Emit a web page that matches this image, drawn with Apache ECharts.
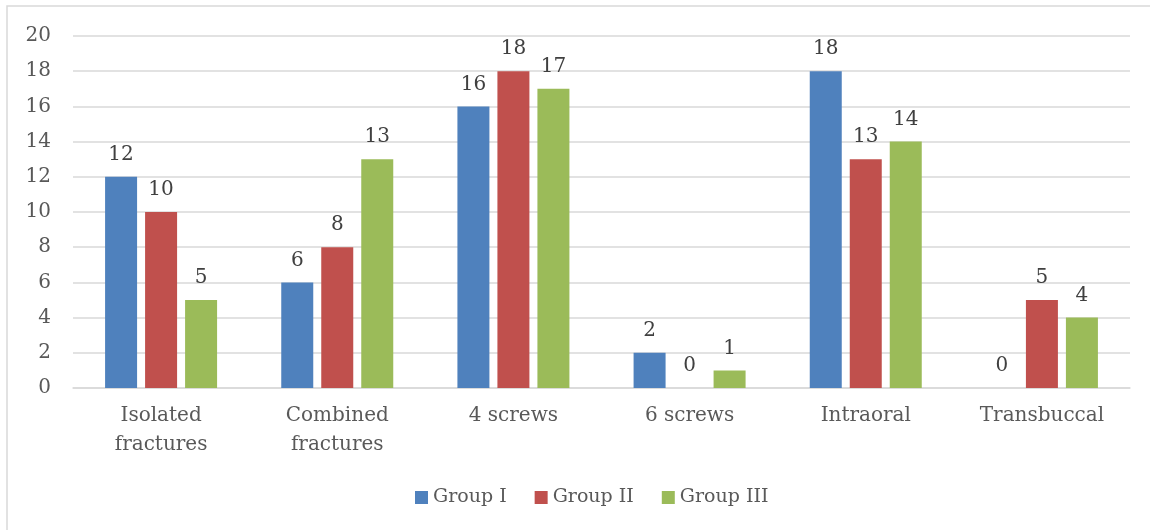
<!DOCTYPE html>
<html>
<head>
<meta charset="utf-8">
<script src="https://cdn.jsdelivr.net/npm/echarts@6/dist/echarts.min.js"></script>
<style>
  html, body { margin: 0; padding: 0; background: #fff; }
  #chart { width: 1150px; height: 530px; }
</style>
</head>
<body>
<div id="chart"></div>
<script>
// categories and values
var categories = ['Isolated\nfractures', 'Combined\nfractures', '4 screws', '6 screws', 'Intraoral', 'Transbuccal'];
var groupI = [12, 6, 16, 2, 18, 0];
var groupII = [10, 8, 18, 0, 13, 5];
var groupIII = [5, 13, 17, 1, 14, 4];
var seriesNames = ['Group I', 'Group II', 'Group III'];
var colors = ['#4f81bd', '#c0504d', '#9bbb59'];

var font = 'DejaVu Serif';

var chart = echarts.init(document.getElementById('chart'));

function makeSeries(name, data, color) {
    return {
        name: name,
        type: 'bar',
        data: data,
        barWidth: 32,
        barGap: '25%',
        itemStyle: { color: color },
        label: {
            show: true,
            position: 'top',
            distance: 12,
            color: '#404040',
            fontFamily: font,
            fontSize: 20
        }
    };
}

var option = {
    animation: false,
    color: colors,
    graphic: [
        {
            type: 'rect',
            shape: { x: 7, y: 6, width: 1160, height: 540 },
            style: { fill: 'none', stroke: '#d9d9d9', lineWidth: 1.5 },
            silent: true
        }
    ],
    grid: {
        left: 73,
        right: 20,
        top: 36,
        bottom: 142
    },
    legend: {
        bottom: 18,
        left: 410,
        itemWidth: 13,
        itemHeight: 13,
        itemGap: 28,
        icon: 'rect',
        textStyle: { color: '#595959', fontFamily: font, fontSize: 19 },
        data: seriesNames
    },
    xAxis: {
        type: 'category',
        data: categories,
        axisTick: { show: false },
        axisLine: { lineStyle: { color: '#d9d9d9', width: 1.5 } },
        axisLabel: {
            color: '#595959',
            fontFamily: font,
            fontSize: 20,
            lineHeight: 29,
            margin: 13,
            interval: 0
        }
    },
    yAxis: {
        type: 'value',
        min: 0,
        max: 20,
        interval: 2,
        axisLine: { show: false },
        axisTick: { show: false },
        splitLine: { lineStyle: { color: '#d9d9d9', width: 1.5 } },
        axisLabel: {
            color: '#595959',
            fontFamily: font,
            fontSize: 20,
            margin: 22
        }
    },
    series: [
        makeSeries(seriesNames[0], groupI, colors[0]),
        makeSeries(seriesNames[1], groupII, colors[1]),
        makeSeries(seriesNames[2], groupIII, colors[2])
    ]
};

chart.setOption(option);
</script>
</body>
</html>
